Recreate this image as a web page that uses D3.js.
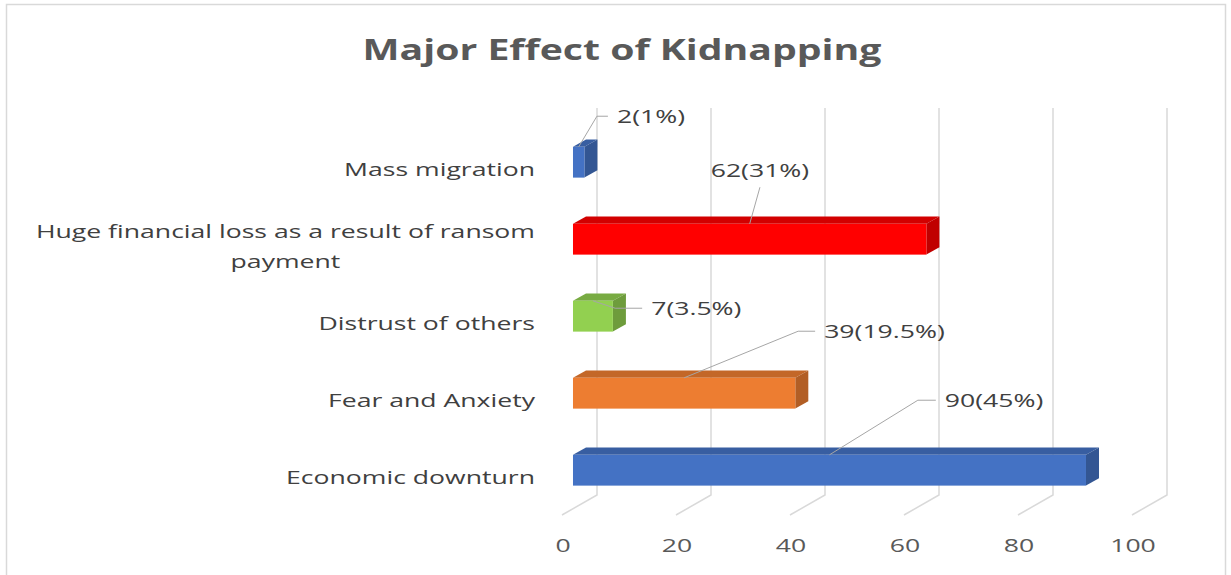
<!DOCTYPE html>
<html><head><meta charset="utf-8">
<script src="https://cdn.jsdelivr.net/npm/d3@7"></script>
<style>
body{margin:0;background:#fff;}
svg{display:block;font-family:"Open Sans",sans-serif;}
</style></head>
<body><svg id="chart" width="1231" height="575"></svg>
<script>
// ---- data ----
const categories = ["Mass migration","Huge financial loss as a result of ransom payment","Distrust of others","Fear and Anxiety","Economic downturn"];
const categoryLines = [["Mass migration"],["Huge financial loss as a result of ransom","payment"],["Distrust of others"],["Fear and Anxiety"],["Economic downturn"]];
const counts = [2, 62, 7, 39, 90];
const percents = ["1", "31", "3.5", "19.5", "45"];
const tickValues = [0, 20, 40, 60, 80, 100];
const barColors = ["#4472C4","#FF0000","#92D050","#ED7D31","#4472C4"];
// label leader layout: elbow x in axis units, elbow y offset (px) from bar centre, horizontal tail (px)
const labelElbowX = [4.2, 32.8, 7.4, 39.5, 60.5];
const labelElbowDY = [-46, -52, -8, -62, -70];
const labelTail = [11, 0, 27, 17, 18];

// ---- layout ----
const svg = d3.select("#chart");
const SX = 1.4; // horizontal stretch of text as in the reference
const backTop = 110, backBottom = 495;
const depth = {dx: -35, dy: 20};
const barFrontD = 0.686, barBackD = 0.314;
const x = d3.scaleLinear().domain([0, 100]).range([597, 1167]);
const y = d3.scaleBand().domain(categories).range([backTop, backBottom]);
const barH = y.bandwidth() * 0.4;

const off = d => [depth.dx * d, depth.dy * d];
const [fdx, fdy] = off(barFrontD);
const [bdx, bdy] = off(barBackD);
const sdx = bdx - fdx, sdy = bdy - fdy;

function stext(g, px, py, str, size, anchor, fill, weight) {
  return g.append("text").attr("x", 0).attr("y", 0)
    .attr("transform", `translate(${px},${py}) scale(${SX},1)`)
    .attr("text-anchor", anchor).attr("font-size", size)
    .attr("fill", fill).attr("font-weight", weight || "normal").text(str);
}

// border
svg.append("rect").attr("x", 6.5).attr("y", 4.5).attr("width", 1219).attr("height", 580)
  .attr("fill", "none").attr("stroke", "#d9d9d9").attr("stroke-width", 1.5);

// title
stext(svg, 622, 60, "Major Effect of Kidnapping", 28, "middle", "#595959", "bold");

// gridlines
const grid = svg.append("g").attr("stroke", "#d9d9d9").attr("stroke-width", 1.5).attr("fill", "none");
tickValues.forEach(t => {
  const xb = x(t);
  grid.append("path").attr("d", `M${xb},${backTop - 2}L${xb},${backBottom}L${xb + depth.dx},${backBottom + depth.dy}`);
});

// tick labels
const tg = svg.append("g");
tickValues.forEach(t => stext(tg, x(t) + depth.dx + 1, 552, String(t), 19, "middle", "#595959"));

// category labels
const catG = svg.append("g");
categories.forEach((c, i) => {
  const lines = categoryLines[i];
  const cy = y(c) + y.bandwidth() / 2 + depth.dy;
  const lh = 30;
  if (lines.length === 1) {
    stext(catG, 535, cy + 7, lines[0], 19, "end", "#404040");
  } else {
    // measure longest line to centre the block, right-aligned at 535
    const probe = stext(catG, 0, 0, lines[0], 19, "start", "#404040");
    const w = probe.node().getComputedTextLength() * SX;
    probe.remove();
    const cx = 535 - w / 2;
    lines.forEach((ln, j) => stext(catG, cx, cy + (j - (lines.length - 1) / 2) * lh + 7, ln, 19, "middle", "#404040"));
  }
});

// bars
const shade = (c, k) => d3.color(c).darker(k).formatHex();
const bars = svg.append("g");
categories.forEach((c, i) => {
  const cy = y(c) + y.bandwidth() / 2 + fdy;
  const x0 = x(0) + fdx, x1 = x(counts[i]) + fdx;
  const yt = cy - barH / 2, yb = cy + barH / 2;
  const col = barColors[i];
  bars.append("path").attr("d", `M${x0},${yt}L${x1},${yt}L${x1 + sdx},${yt + sdy}L${x0 + sdx},${yt + sdy}Z`)
    .attr("fill", shade(col, 0.55));
  bars.append("path").attr("d", `M${x1},${yt}L${x1 + sdx},${yt + sdy}L${x1 + sdx},${yb + sdy}L${x1},${yb}Z`)
    .attr("fill", shade(col, 0.8));
  bars.append("rect").attr("x", x0).attr("y", yt).attr("width", x1 - x0).attr("height", barH).attr("fill", col);
});

// data labels with leader lines
const lab = svg.append("g");
categories.forEach((c, i) => {
  const cy = y(c) + y.bandwidth() / 2 + fdy;
  const yt = cy - barH / 2;
  const sx = x(counts[i] / 2) + fdx, sy = yt;
  const ex = x(labelElbowX[i]) + fdx, ey = cy + labelElbowDY[i];
  const tx = ex + labelTail[i];
  lab.append("path").attr("d", `M${sx},${sy}L${ex},${ey}L${tx},${ey}`)
    .attr("stroke", "#a6a6a6").attr("stroke-width", 1).attr("fill", "none");
  const str = `${counts[i]}(${percents[i]}%)`;
  if (labelTail[i] > 0) stext(lab, tx + 9, ey + 7, str, 19, "start", "#404040");
  else stext(lab, ex, ey - 10, str, 19, "middle", "#404040");
});
</script></body></html>
